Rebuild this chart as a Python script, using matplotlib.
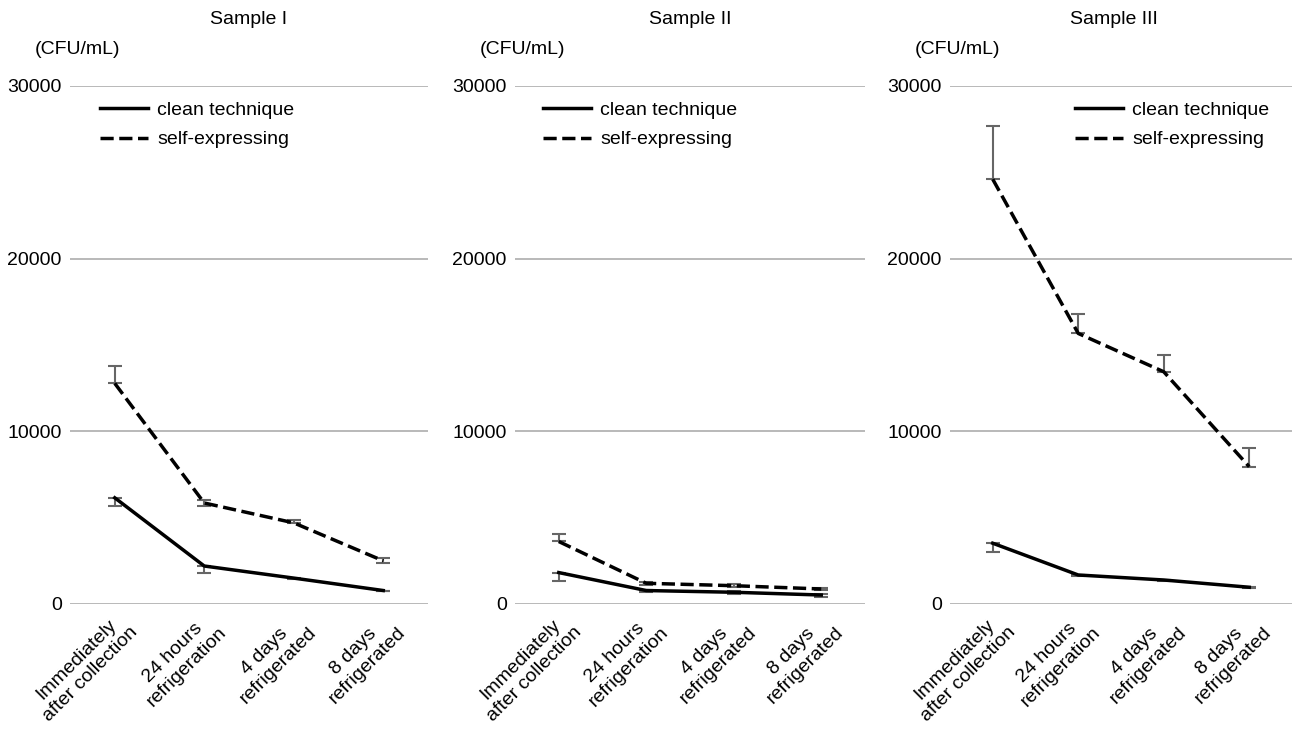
import numpy as np
import matplotlib
matplotlib.use("Agg")
import matplotlib.pyplot as plt

plt.rcParams['font.family'] = ['Liberation Sans', 'DejaVu Sans']

# x categories
times = ["Immediately\nafter collection", "24 hours\nrefrigeration",
         "4 days\nrefrigerated", "8 days\nrefrigerated"]
titles = ["Sample I", "Sample II", "Sample III"]

# clean technique (CFU/mL), lower / upper error
clean_1 = [6150, 2200, 1500, 780]
clean_1_lo = [450, 380, 80, 50]
clean_1_hi = [0, 0, 0, 0]
clean_2 = [1820, 780, 680, 520]
clean_2_lo = [480, 100, 100, 100]
clean_2_hi = [0, 50, 50, 50]
clean_3 = [3520, 1680, 1390, 970]
clean_3_lo = [480, 80, 80, 60]
clean_3_hi = [0, 0, 0, 0]

# self-expressing (CFU/mL), lower / upper error
self_1 = [12780, 5850, 4700, 2500]
self_1_lo = [0, 150, 0, 100]
self_1_hi = [1020, 180, 150, 150]
self_2 = [3620, 1200, 1060, 870]
self_2_lo = [0, 100, 100, 80]
self_2_hi = [420, 100, 100, 80]
self_3 = [24600, 15670, 13450, 7950]
self_3_lo = [0, 0, 0, 0]
self_3_hi = [3100, 1100, 950, 1100]

clean = [clean_1, clean_2, clean_3]
clean_err = [(clean_1_lo, clean_1_hi), (clean_2_lo, clean_2_hi), (clean_3_lo, clean_3_hi)]
selfx = [self_1, self_2, self_3]
self_err = [(self_1_lo, self_1_hi), (self_2_lo, self_2_hi), (self_3_lo, self_3_hi)]

fig = plt.figure(figsize=(12.96, 7.29), dpi=100)

W, H = 1296, 729
panels = [(70, 358), (515, 350), (950, 342)]  # left px, width px
leg_x = [30, 28, 125]
title_x = [249, 690, 1114]
bottom = 1 - 604 / H
height = (604 - 86) / H
fs = 14

x = np.arange(len(times))
for i, (lpx, wpx) in enumerate(panels):
    ax = fig.add_axes([lpx / W, bottom, wpx / W, height])
    ax.set_xlim(-0.5, 3.5)
    ax.set_ylim(0, 30000)
    ax.set_yticks([0, 10000, 20000, 30000])
    ax.yaxis.grid(True, color="#a6a6a6", linewidth=1.1)
    ax.set_axisbelow(True)
    for s in ax.spines.values():
        s.set_visible(False)
    ax.tick_params(length=0, labelsize=fs, pad=6)
    ax.set_xticks(x)
    ax.set_xticklabels(times, rotation=45, ha="right", rotation_mode="anchor",
                       multialignment="center", fontsize=fs)
    ax.tick_params(axis="x", pad=4)

    lo, hi = clean_err[i]
    ax.errorbar(x, clean[i], yerr=[lo, hi], color="black", lw=2.5,
                ecolor="#666666", elinewidth=1.5, capsize=5, capthick=1.5,
                label="clean technique")
    lo, hi = self_err[i]
    ax.errorbar(x, selfx[i], yerr=[lo, hi], color="black", lw=2.5,
                ecolor="#666666", elinewidth=1.5, capsize=5, capthick=1.5,
                dashes=(3.8, 1.6), label="self-expressing")

    h, l = ax.get_legend_handles_labels()
    ax.legend([hh[0] for hh in h], l, loc="upper left",
              bbox_to_anchor=((leg_x[i] - 8) / wpx, 0.985), frameon=False,
              fontsize=fs, handlelength=2.5, handletextpad=0.45,
              labelspacing=0.6, borderaxespad=0)

    fig.text(title_x[i] / W, 1 - 20 / H, titles[i], fontsize=fs,
             ha="center", va="center")
    fig.text((lpx - 35) / W, 1 - 50 / H, "(CFU/mL)", fontsize=fs,
             ha="left", va="center")

fig.savefig("out.png", dpi=100)
